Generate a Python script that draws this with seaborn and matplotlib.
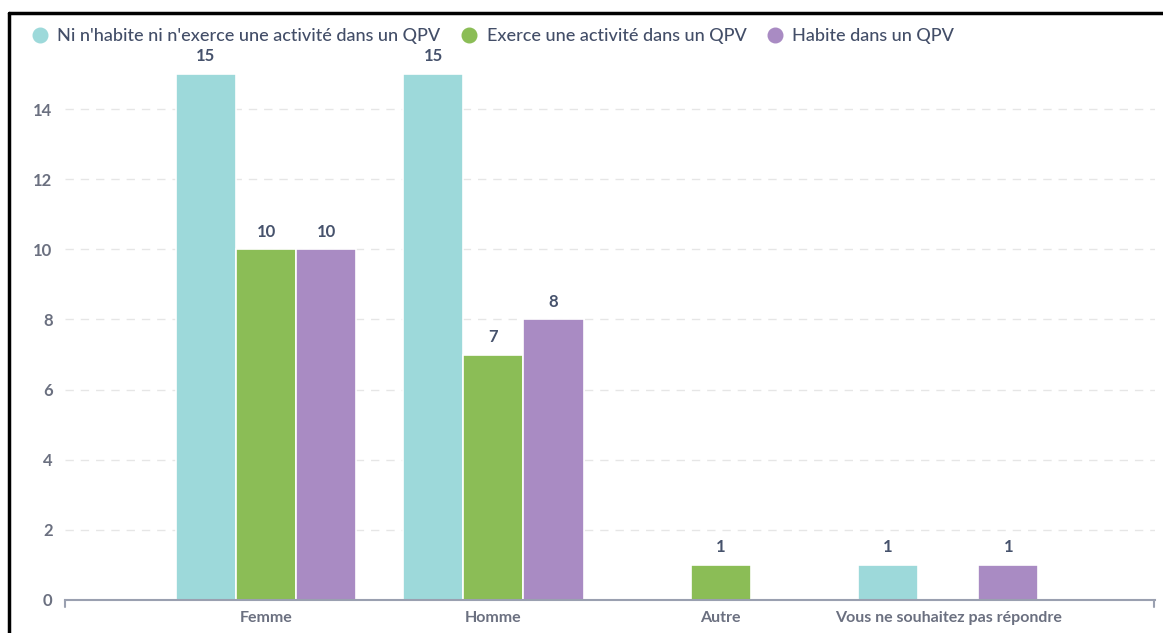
import matplotlib
matplotlib.use('Agg')
import matplotlib.pyplot as plt
from matplotlib.lines import Line2D
import seaborn as sns
import pandas as pd

categories = ['Femme', 'Homme', 'Autre', 'Vous ne souhaitez pas répondre']
series = ["Ni n'habite ni n'exerce une activité dans un QPV",
          'Exerce une activité dans un QPV',
          'Habite dans un QPV']
ni_ni = [15, 15, None, 1]
exerce = [10, 7, 1, None]
habite = [10, 8, None, 1]
colors = ['#9dd9da', '#8bbd56', '#a98bc3']

rows = []
for name, vals in zip(series, [ni_ni, exerce, habite]):
    for cat, v in zip(categories, vals):
        if v is not None:
            rows.append({'Categorie': cat, 'Serie': name, 'Valeur': v})
df = pd.DataFrame(rows)

sns.set_style('white')
plt.rcParams['font.family'] = ['Lato', 'DejaVu Sans']

fig = plt.figure(figsize=(11.63, 6.33), dpi=100)
ax = fig.add_axes([65 / 1163, 33 / 633, 1090 / 1163, 526 / 633])

sns.barplot(data=df, x='Categorie', y='Valeur', hue='Serie',
            order=categories, hue_order=series, palette=colors,
            width=0.795, edgecolor='white', linewidth=1.2,
            saturation=1, legend=False, ax=ax)

# value labels
text_col = '#46526c'
for container in ax.containers:
    ax.bar_label(container, padding=7, fontsize=12, fontweight='bold',
                 color=text_col)

ax.set_xlim(-0.884, 3.91)
ax.set_ylim(0, 15)
ax.set_yticks(range(0, 15, 2))
ax.yaxis.grid(True, linestyle=(0, (6, 5)), color='#e6e6e6', linewidth=1)
ax.set_axisbelow(True)
for s in ['top', 'right', 'left']:
    ax.spines[s].set_visible(False)
ax.spines['bottom'].set_color('#9aa0b0')
ax.spines['bottom'].set_linewidth(1.5)
ax.tick_params(axis='both', length=0, labelcolor='#6b7080')
ax.tick_params(axis='y', pad=9, labelsize=12)
ax.tick_params(axis='x', pad=8, labelsize=11.5)
for lab in ax.get_xticklabels() + ax.get_yticklabels():
    lab.set_fontweight('bold')
ax.set_xlabel('')
ax.set_ylabel('')

# small end ticks on the x axis line
for xe in [-0.884, 3.905]:
    ax.plot([xe, xe], [0, -0.2], color='#9aa0b0', lw=1.5, clip_on=False)

handles = [Line2D([], [], marker='o', linestyle='', markersize=10.5,
                  markerfacecolor=c, markeredgecolor=c) for c in colors]
leg = fig.legend(handles, series, loc='upper left', ncol=3,
                 bbox_to_anchor=(24 / 1163, 1 - 21 / 633), frameon=False,
                 handletextpad=0.45, columnspacing=1.1,
                 borderaxespad=0, handlelength=1.0,
                 prop={'size': 13, 'weight': 'medium'})
for t in leg.get_texts():
    t.set_color('#434e68')

# black frame on top and left
fig.add_artist(Line2D([9 / 1163, 1], [1 - 13 / 633, 1 - 13 / 633],
                      color='black', lw=2.5, transform=fig.transFigure))
fig.add_artist(Line2D([9 / 1163, 9 / 1163], [0, 1 - 13 / 633],
                      color='black', lw=2.5, transform=fig.transFigure))

fig.savefig('out.png', dpi=100, facecolor='white')
